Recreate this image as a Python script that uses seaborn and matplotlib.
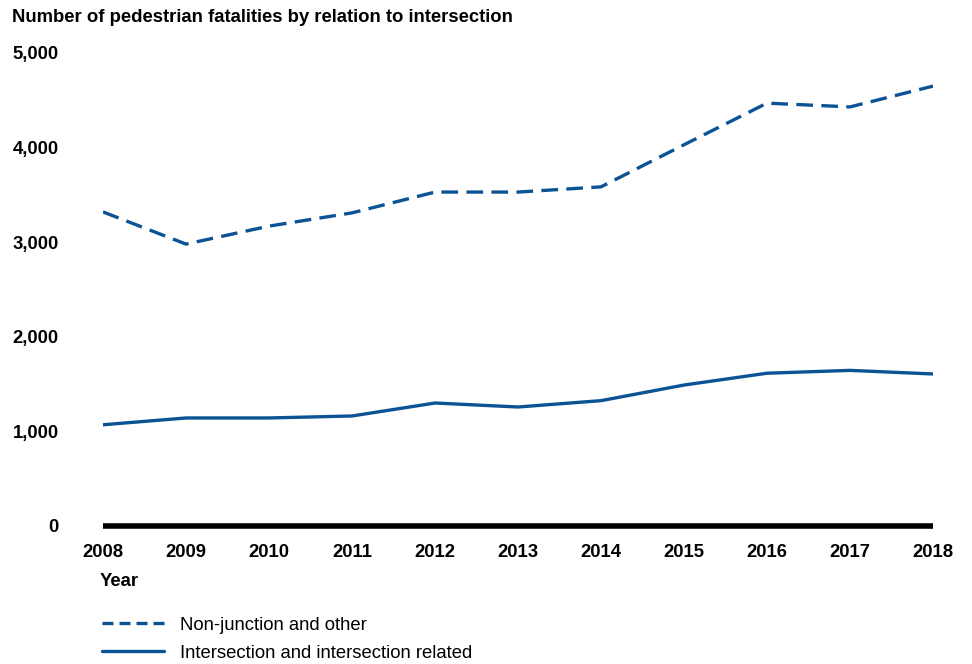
import matplotlib
matplotlib.use("Agg")
import matplotlib.pyplot as plt
import pandas as pd
import seaborn as sns

sns.set_theme(style="white")
plt.rcParams['font.family'] = ['Liberation Sans', 'DejaVu Sans']
plt.rcParams['text.color'] = 'black'

years = [2008, 2009, 2010, 2011, 2012, 2013, 2014, 2015, 2016, 2017, 2018]
non_junction = [3320, 2980, 3170, 3310, 3530, 3530, 3585, 4030, 4470, 4430, 4650]
intersection = [1070, 1142, 1142, 1163, 1300, 1258, 1325, 1490, 1615, 1645, 1607]
yticks = [0, 1000, 2000, 3000, 4000, 5000]

blue = '#0b5394'
fs = 13.3

df = pd.DataFrame({'Year': years, 'Non-junction and other': non_junction,
                   'Intersection and intersection related': intersection})

fig = plt.figure(figsize=(9.72, 6.64), dpi=100)
ax = fig.add_axes([103 / 972, 138 / 664, 830 / 972, 473 / 664])

sns.lineplot(data=df, x='Year', y='Non-junction and other', ax=ax, color=blue,
             lw=2.4, label='Non-junction and other')
ax.lines[-1].set_dashes((5, 2.5))
sns.lineplot(data=df, x='Year', y='Intersection and intersection related', ax=ax,
             color=blue, lw=2.4, label='Intersection and intersection related')

ax.axhline(0, color='black', lw=4, clip_on=False, zorder=5, solid_capstyle='butt')
ax.set_xlim(2008, 2018)
ax.set_ylim(0, 5000)
ax.set_xticks(years)
ax.set_yticks(yticks)
ax.set_yticklabels([f"{v:,}" for v in yticks])
ax.tick_params(axis='x', length=0, pad=13, labelsize=fs)
ax.tick_params(axis='y', length=0, pad=32, labelsize=fs)
for lab in ax.get_xticklabels() + ax.get_yticklabels():
    lab.set_fontweight('bold')
    lab.set_color('black')
ax.set_xlabel('')
ax.set_ylabel('')
sns.despine(ax=ax, left=True, bottom=True)
ax.grid(False)

handles, labels = ax.get_legend_handles_labels()
ax.get_legend().remove()
leg = fig.legend(handles, labels, loc='upper left', bbox_to_anchor=(85 / 972, 1 - 600 / 664),
                 frameon=False, fontsize=fs, handlelength=3.4, labelspacing=0.6,
                 handletextpad=0.85)
leg.legend_handles[0].set_dashes((3.3, 1.8))
for t in leg.get_texts():
    t.set_color('black')

fig.text(12 / 972, 1 - 17 / 664, 'Number of pedestrian fatalities by relation to intersection',
         fontsize=fs, fontweight='bold', va='center', ha='left', color='black')
fig.text(100 / 972, 1 - 582 / 664, 'Year', fontsize=fs, fontweight='bold',
         va='center', ha='left', color='black')

fig.savefig('out.png', dpi=100)
